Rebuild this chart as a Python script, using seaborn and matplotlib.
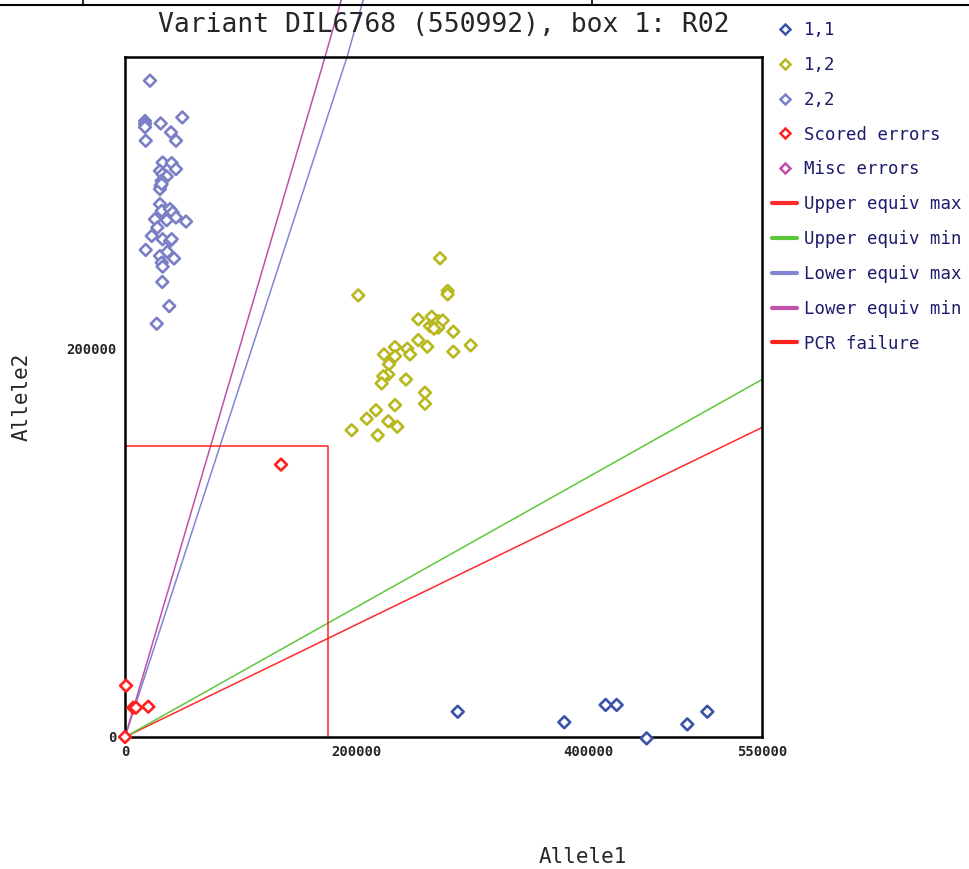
import numpy as np
import pandas as pd
import matplotlib
matplotlib.use("Agg")
import matplotlib.pyplot as plt
from matplotlib.lines import Line2D
import seaborn as sns

# --- genotype calls (Allele1, Allele2) ---
g11_x = [287300, 379300, 415000, 424500, 450400, 485500, 502800]
g11_y = [13000, 7600, 16500, 16500, -700, 6500, 13000]

g12_x = [272000, 201400, 278600, 278600, 253200, 264800, 263300, 267700, 270500, 274300,
         270500, 266800, 283500, 253200, 261000, 283500, 298500, 233100, 223600, 233100,
         243700, 246100, 227900, 227300, 223000, 221600, 242600, 259000, 259000, 233100,
         216700, 208700, 227300, 235100, 195700, 218200]
g12_y = [246400, 227300, 229600, 227800, 215000, 216300, 211500, 212400, 214100, 214400,
         210700, 210200, 208600, 204300, 200900, 198300, 201600, 200700, 196900, 196000,
         199900, 196900, 191800, 186600, 185700, 182000, 184000, 177200, 171500, 170800,
         168200, 163800, 162500, 159700, 157900, 155300]

g22_x = [21600, 17300, 17300, 17300, 30800, 49500, 39700, 44000, 17900, 32500,
         40300, 44000, 30200, 32500, 36000, 31700, 30800, 30200, 31700, 30200,
         31700, 38900, 41200, 25900, 36000, 44000, 52700, 27900, 23100, 32500,
         38900, 40300, 17900, 30200, 36500, 42300, 31700, 32500, 32200, 38200, 27400]
g22_y = [337800, 317000, 315500, 313900, 315800, 318900, 311200, 306900, 306900, 295700,
         295400, 292300, 291400, 289700, 288500, 286300, 283700, 282000, 284600, 274300,
         270800, 271700, 270000, 266500, 266000, 267400, 265300, 262200, 257900, 256200,
         255300, 256200, 250700, 247600, 249700, 246300, 244200, 242100, 234200, 221800, 212700]

err_x = [134700, 900, 7200, 9500, 20100, 0]
err_y = [140200, 26400, 15100, 15100, 15600, 0]

misc_x = []
misc_y = []

# --- cluster boundary lines ---
upper_max = ([0, 550000], [0, 159300])
upper_min = ([0, 550000], [0, 184000])
lower_max = ([0, 191700, 206000], [0, 350000, 380000])
lower_min = ([0, 172700, 187000], [0, 350000, 380000])
pcr_x = [0, 175000, 175000]
pcr_y = [150000, 150000, 0]

colors = {
    "1,1": "#3a52a8",
    "1,2": "#b8b81e",
    "2,2": "#7b80c6",
    "Scored errors": "#ff2020",
    "Misc errors": "#c050a8",
}
line_colors = {
    "Upper equiv max": "#ff2a2a",
    "Upper equiv min": "#5cc83c",
    "Lower equiv max": "#7f86d2",
    "Lower equiv min": "#c050a8",
    "PCR failure": "#ff2020",
}

df = pd.concat([
    pd.DataFrame({"Allele1": g11_x, "Allele2": g11_y, "call": "1,1"}),
    pd.DataFrame({"Allele1": g12_x, "Allele2": g12_y, "call": "1,2"}),
    pd.DataFrame({"Allele1": g22_x, "Allele2": g22_y, "call": "2,2"}),
    pd.DataFrame({"Allele1": err_x, "Allele2": err_y, "call": "Scored errors"}),
], ignore_index=True)

sns.set_style("white")
plt.rcParams["font.family"] = ["DejaVu Sans Mono", "DejaVu Sans"]

fig = plt.figure(figsize=(9.69, 8.69), dpi=100)
ax = fig.add_axes([125 / 969, 1 - 737 / 869, 637 / 969, 680 / 869])

lw = 1.1
line_kw = dict(ax=ax, lw=lw, sort=False, estimator=None)
for name, (xs, ys) in [("Upper equiv max", upper_max), ("Upper equiv min", upper_min)]:
    sns.lineplot(x=xs, y=ys, color=line_colors[name], **line_kw)
for name, (xs, ys) in [("Lower equiv max", lower_max), ("Lower equiv min", lower_min)]:
    sns.lineplot(x=xs, y=ys, color=line_colors[name], clip_on=False, **line_kw)
sns.lineplot(x=pcr_x, y=pcr_y, color=line_colors["PCR failure"], **line_kw)

sns.scatterplot(data=df, x="Allele1", y="Allele2", hue="call", palette=colors,
                marker="D", s=36, linewidth=1.9, legend=False, ax=ax, zorder=5,
                clip_on=False)
coll = ax.collections[-1]
coll.set_edgecolors(coll.get_facecolors())
coll.set_facecolors("white")

ax.set_xlim(0, 550000)
ax.set_ylim(0, 350000)
ax.set_xticks(np.arange(0, 550001, 50000))
ax.set_xticklabels(["0", "", "", "", "200000", "", "", "", "400000", "", "", "550000"])
ax.set_yticks(np.arange(0, 350001, 50000))
ax.set_yticklabels(["0", "", "", "", "200000", "", "", ""])
ax.tick_params(direction="in", length=9, width=1.8, color="black", labelsize=10,
               pad=6)
for lab in ax.get_xticklabels() + ax.get_yticklabels():
    lab.set_fontweight("bold")
for sp in ax.spines.values():
    sp.set_color("black")
    sp.set_linewidth(1.8)

ax.set_title("Variant DIL6768 (550992), box 1: R02", fontsize=19, pad=18)
ax.set_xlabel("Allele1", fontsize=15)
ax.set_ylabel("Allele2", fontsize=15)
ax.xaxis.set_label_coords(0.719, -0.162)
ax.yaxis.set_label_coords(-0.146, 0.5)

handles = []
for name in ["1,1", "1,2", "2,2", "Scored errors", "Misc errors"]:
    handles.append(Line2D([], [], ls="none", marker="D", ms=5.5, mfc="white",
                          mec=colors[name], mew=1.8, label=name))
for name in line_colors:
    handles.append(Line2D([], [], color=line_colors[name], lw=3, label=name))
leg = fig.legend(handles=handles, loc="upper left", bbox_to_anchor=(772 / 969, 1 - 21 / 869),
                 frameon=False, borderaxespad=0, borderpad=0, fontsize=12.5,
                 handlelength=1.45, handletextpad=0.4, labelspacing=0.97)
for t in leg.get_texts():
    t.set_color("#1c1c6c")

# cropped table border along the top edge
fig.add_artist(Line2D([0, 1], [1 - 5 / 869, 1 - 5 / 869], color="black", lw=1.5))
fig.add_artist(Line2D([83 / 969, 83 / 969], [1 - 5 / 869, 1], color="black", lw=1.2))
fig.add_artist(Line2D([592 / 969, 592 / 969], [1 - 5 / 869, 1], color="black", lw=1.2))

fig.savefig("out.png", dpi=100)
